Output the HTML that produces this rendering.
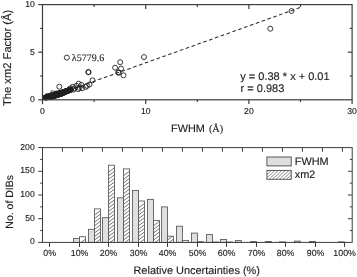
<!DOCTYPE html>
<html><head><meta charset="utf-8"><title>Figure</title>
<style>html,body{margin:0;padding:0;background:#fff;}svg{display:block;}svg text{text-rendering:geometricPrecision;}</style></head>
<body><svg width="357" height="277" viewBox="0 0 357 277" text-rendering="geometricPrecision">
<rect width="357" height="277" fill="#fff"/>
<line x1="45.60" y1="98.62" x2="300.6" y2="7.4" stroke="#2a2a2a" stroke-width="1.05" stroke-dasharray="3.6 2.6"/>
<polygon points="43.0,95.9 44.0,95.6 45.0,95.3 46.0,95.0 47.0,94.7 48.0,94.4 49.0,94.1 50.0,93.8 51.0,93.5 52.0,93.2 53.0,92.8 54.0,92.5 55.0,92.2 56.0,91.9 57.0,91.6 58.0,91.3 59.0,91.0 60.0,90.7 61.0,90.4 62.0,90.1 63.0,89.7 64.0,89.4 65.0,89.1 66.0,88.8 67.0,88.5 68.0,88.2 69.0,87.9 70.0,87.6 71.0,87.3 71.0,91.5 70.0,92.0 69.0,92.5 68.0,93.0 67.0,93.5 66.0,94.0 65.0,94.5 64.0,95.0 63.0,95.5 62.0,95.9 61.0,96.2 60.0,96.6 59.0,96.9 58.0,97.2 57.0,97.5 56.0,97.8 55.0,98.1 54.0,98.5 53.0,98.8 52.0,99.1 51.0,99.1 50.0,99.1 49.0,99.1 48.0,99.1 47.0,99.1 46.0,99.1 45.0,99.1 44.0,99.1 43.0,99.1" fill="#000" stroke="#000" stroke-width="0.5" stroke-linejoin="round"/>
<circle cx="45.50" cy="97.57" r="2.5" fill="none" stroke="#202020" stroke-width="0.88"/>
<circle cx="45.80" cy="97.48" r="2.5" fill="none" stroke="#202020" stroke-width="0.88"/>
<circle cx="46.10" cy="97.38" r="2.5" fill="none" stroke="#202020" stroke-width="0.88"/>
<circle cx="46.40" cy="97.29" r="2.5" fill="none" stroke="#202020" stroke-width="0.88"/>
<circle cx="46.70" cy="97.20" r="2.5" fill="none" stroke="#202020" stroke-width="0.88"/>
<circle cx="47.00" cy="97.11" r="2.5" fill="none" stroke="#202020" stroke-width="0.88"/>
<circle cx="47.30" cy="97.01" r="2.5" fill="none" stroke="#202020" stroke-width="0.88"/>
<circle cx="47.60" cy="96.92" r="2.5" fill="none" stroke="#202020" stroke-width="0.88"/>
<circle cx="47.90" cy="96.83" r="2.5" fill="none" stroke="#202020" stroke-width="0.88"/>
<circle cx="48.20" cy="96.73" r="2.5" fill="none" stroke="#202020" stroke-width="0.88"/>
<circle cx="48.50" cy="96.70" r="2.5" fill="none" stroke="#202020" stroke-width="0.88"/>
<circle cx="48.80" cy="96.56" r="2.5" fill="none" stroke="#202020" stroke-width="0.88"/>
<circle cx="49.10" cy="96.45" r="2.5" fill="none" stroke="#202020" stroke-width="0.88"/>
<circle cx="49.40" cy="96.70" r="2.5" fill="none" stroke="#202020" stroke-width="0.88"/>
<circle cx="49.70" cy="96.50" r="2.5" fill="none" stroke="#202020" stroke-width="0.88"/>
<circle cx="50.00" cy="96.18" r="2.5" fill="none" stroke="#202020" stroke-width="0.88"/>
<circle cx="50.30" cy="96.70" r="2.5" fill="none" stroke="#202020" stroke-width="0.88"/>
<circle cx="50.60" cy="96.25" r="2.5" fill="none" stroke="#202020" stroke-width="0.88"/>
<circle cx="50.90" cy="95.90" r="2.5" fill="none" stroke="#202020" stroke-width="0.88"/>
<circle cx="51.20" cy="96.70" r="2.5" fill="none" stroke="#202020" stroke-width="0.88"/>
<circle cx="51.50" cy="95.77" r="2.5" fill="none" stroke="#202020" stroke-width="0.88"/>
<circle cx="51.80" cy="95.62" r="2.5" fill="none" stroke="#202020" stroke-width="0.88"/>
<circle cx="52.10" cy="96.67" r="2.5" fill="none" stroke="#202020" stroke-width="0.88"/>
<circle cx="52.40" cy="96.01" r="2.5" fill="none" stroke="#202020" stroke-width="0.88"/>
<circle cx="52.70" cy="95.34" r="2.5" fill="none" stroke="#202020" stroke-width="0.88"/>
<circle cx="53.00" cy="96.38" r="2.5" fill="none" stroke="#202020" stroke-width="0.88"/>
<circle cx="53.30" cy="95.19" r="2.5" fill="none" stroke="#202020" stroke-width="0.88"/>
<circle cx="53.60" cy="95.06" r="2.5" fill="none" stroke="#202020" stroke-width="0.88"/>
<circle cx="53.90" cy="96.10" r="2.5" fill="none" stroke="#202020" stroke-width="0.88"/>
<circle cx="54.20" cy="95.36" r="2.5" fill="none" stroke="#202020" stroke-width="0.88"/>
<circle cx="54.50" cy="94.78" r="2.5" fill="none" stroke="#202020" stroke-width="0.88"/>
<circle cx="54.80" cy="95.81" r="2.5" fill="none" stroke="#202020" stroke-width="0.88"/>
<circle cx="55.10" cy="94.67" r="2.5" fill="none" stroke="#202020" stroke-width="0.88"/>
<circle cx="55.40" cy="94.50" r="2.5" fill="none" stroke="#202020" stroke-width="0.88"/>
<circle cx="55.70" cy="95.53" r="2.5" fill="none" stroke="#202020" stroke-width="0.88"/>
<circle cx="56.00" cy="94.42" r="2.5" fill="none" stroke="#202020" stroke-width="0.88"/>
<circle cx="56.30" cy="94.22" r="2.5" fill="none" stroke="#202020" stroke-width="0.88"/>
<circle cx="56.60" cy="95.24" r="2.5" fill="none" stroke="#202020" stroke-width="0.88"/>
<circle cx="56.90" cy="94.51" r="2.5" fill="none" stroke="#202020" stroke-width="0.88"/>
<circle cx="57.20" cy="93.94" r="2.5" fill="none" stroke="#202020" stroke-width="0.88"/>
<circle cx="57.50" cy="94.95" r="2.5" fill="none" stroke="#202020" stroke-width="0.88"/>
<circle cx="57.80" cy="94.67" r="2.5" fill="none" stroke="#202020" stroke-width="0.88"/>
<circle cx="58.10" cy="93.66" r="2.5" fill="none" stroke="#202020" stroke-width="0.88"/>
<circle cx="58.40" cy="94.67" r="2.5" fill="none" stroke="#202020" stroke-width="0.88"/>
<circle cx="58.70" cy="93.61" r="2.5" fill="none" stroke="#202020" stroke-width="0.88"/>
<circle cx="59.00" cy="93.39" r="2.5" fill="none" stroke="#202020" stroke-width="0.88"/>
<circle cx="59.30" cy="94.38" r="2.5" fill="none" stroke="#202020" stroke-width="0.88"/>
<circle cx="59.60" cy="93.44" r="2.5" fill="none" stroke="#202020" stroke-width="0.88"/>
<circle cx="59.90" cy="93.11" r="2.5" fill="none" stroke="#202020" stroke-width="0.88"/>
<circle cx="60.20" cy="94.10" r="2.5" fill="none" stroke="#202020" stroke-width="0.88"/>
<circle cx="60.50" cy="93.60" r="2.5" fill="none" stroke="#202020" stroke-width="0.88"/>
<circle cx="60.80" cy="92.83" r="2.5" fill="none" stroke="#202020" stroke-width="0.88"/>
<circle cx="61.10" cy="93.81" r="2.5" fill="none" stroke="#202020" stroke-width="0.88"/>
<circle cx="61.40" cy="93.66" r="2.5" fill="none" stroke="#202020" stroke-width="0.88"/>
<circle cx="61.70" cy="92.55" r="2.5" fill="none" stroke="#202020" stroke-width="0.88"/>
<circle cx="62.00" cy="93.53" r="2.5" fill="none" stroke="#202020" stroke-width="0.88"/>
<circle cx="62.30" cy="92.98" r="2.5" fill="none" stroke="#202020" stroke-width="0.88"/>
<circle cx="62.60" cy="92.27" r="2.5" fill="none" stroke="#202020" stroke-width="0.88"/>
<circle cx="62.90" cy="93.15" r="2.5" fill="none" stroke="#202020" stroke-width="0.88"/>
<circle cx="63.20" cy="92.45" r="2.5" fill="none" stroke="#202020" stroke-width="0.88"/>
<circle cx="63.50" cy="91.99" r="2.5" fill="none" stroke="#202020" stroke-width="0.88"/>
<circle cx="63.80" cy="92.70" r="2.5" fill="none" stroke="#202020" stroke-width="0.88"/>
<circle cx="64.10" cy="92.53" r="2.5" fill="none" stroke="#202020" stroke-width="0.88"/>
<circle cx="64.40" cy="91.71" r="2.5" fill="none" stroke="#202020" stroke-width="0.88"/>
<circle cx="64.70" cy="92.25" r="2.5" fill="none" stroke="#202020" stroke-width="0.88"/>
<circle cx="65.00" cy="91.55" r="2.5" fill="none" stroke="#202020" stroke-width="0.88"/>
<circle cx="65.30" cy="91.43" r="2.5" fill="none" stroke="#202020" stroke-width="0.88"/>
<circle cx="65.60" cy="91.80" r="2.5" fill="none" stroke="#202020" stroke-width="0.88"/>
<circle cx="65.90" cy="91.59" r="2.5" fill="none" stroke="#202020" stroke-width="0.88"/>
<circle cx="66.20" cy="91.15" r="2.5" fill="none" stroke="#202020" stroke-width="0.88"/>
<circle cx="66.50" cy="91.35" r="2.5" fill="none" stroke="#202020" stroke-width="0.88"/>
<circle cx="66.80" cy="91.03" r="2.5" fill="none" stroke="#202020" stroke-width="0.88"/>
<circle cx="67.10" cy="90.87" r="2.5" fill="none" stroke="#202020" stroke-width="0.88"/>
<circle cx="67.40" cy="90.90" r="2.5" fill="none" stroke="#202020" stroke-width="0.88"/>
<circle cx="67.70" cy="90.70" r="2.5" fill="none" stroke="#202020" stroke-width="0.88"/>
<circle cx="68.00" cy="90.60" r="2.5" fill="none" stroke="#202020" stroke-width="0.88"/>
<circle cx="68.30" cy="90.50" r="2.5" fill="none" stroke="#202020" stroke-width="0.88"/>
<circle cx="68.60" cy="90.41" r="2.5" fill="none" stroke="#202020" stroke-width="0.88"/>
<circle cx="68.90" cy="90.32" r="2.5" fill="none" stroke="#202020" stroke-width="0.88"/>
<circle cx="69.20" cy="90.22" r="2.5" fill="none" stroke="#202020" stroke-width="0.88"/>
<circle cx="69.50" cy="90.13" r="2.5" fill="none" stroke="#202020" stroke-width="0.88"/>
<circle cx="69.80" cy="90.04" r="2.5" fill="none" stroke="#202020" stroke-width="0.88"/>
<circle cx="70.10" cy="89.94" r="2.5" fill="none" stroke="#202020" stroke-width="0.88"/>
<circle cx="70.40" cy="89.85" r="2.5" fill="none" stroke="#202020" stroke-width="0.88"/>
<circle cx="70.70" cy="89.76" r="2.5" fill="none" stroke="#202020" stroke-width="0.88"/>
<circle cx="71.00" cy="89.67" r="2.5" fill="none" stroke="#202020" stroke-width="0.88"/>
<circle cx="66.80" cy="57.60" r="2.5" fill="none" stroke="#202020" stroke-width="0.88"/>
<circle cx="59.30" cy="86.70" r="2.5" fill="none" stroke="#202020" stroke-width="0.88"/>
<circle cx="88.30" cy="72.00" r="2.5" fill="none" stroke="#202020" stroke-width="0.88"/>
<circle cx="88.60" cy="72.30" r="2.5" fill="none" stroke="#202020" stroke-width="0.88"/>
<circle cx="92.50" cy="80.30" r="2.5" fill="none" stroke="#202020" stroke-width="0.88"/>
<circle cx="89.50" cy="84.50" r="2.5" fill="none" stroke="#202020" stroke-width="0.88"/>
<circle cx="87.00" cy="85.80" r="2.5" fill="none" stroke="#202020" stroke-width="0.88"/>
<circle cx="85.70" cy="87.00" r="2.5" fill="none" stroke="#202020" stroke-width="0.88"/>
<circle cx="78.60" cy="83.70" r="2.5" fill="none" stroke="#202020" stroke-width="0.88"/>
<circle cx="81.50" cy="84.90" r="2.5" fill="none" stroke="#202020" stroke-width="0.88"/>
<circle cx="76.50" cy="85.80" r="2.5" fill="none" stroke="#202020" stroke-width="0.88"/>
<circle cx="79.40" cy="87.90" r="2.5" fill="none" stroke="#202020" stroke-width="0.88"/>
<circle cx="82.00" cy="88.30" r="2.5" fill="none" stroke="#202020" stroke-width="0.88"/>
<circle cx="78.20" cy="89.10" r="2.5" fill="none" stroke="#202020" stroke-width="0.88"/>
<circle cx="72.80" cy="86.80" r="2.5" fill="none" stroke="#202020" stroke-width="0.88"/>
<circle cx="74.30" cy="88.30" r="2.5" fill="none" stroke="#202020" stroke-width="0.88"/>
<circle cx="73.60" cy="89.60" r="2.5" fill="none" stroke="#202020" stroke-width="0.88"/>
<circle cx="70.30" cy="88.30" r="2.5" fill="none" stroke="#202020" stroke-width="0.88"/>
<circle cx="52.80" cy="93.30" r="2.5" fill="none" stroke="#202020" stroke-width="0.88"/>
<circle cx="56.50" cy="93.40" r="2.5" fill="none" stroke="#202020" stroke-width="0.88"/>
<circle cx="47.50" cy="96.00" r="2.5" fill="none" stroke="#202020" stroke-width="0.88"/>
<circle cx="120.20" cy="62.20" r="2.5" fill="none" stroke="#202020" stroke-width="0.88"/>
<circle cx="115.10" cy="67.70" r="2.5" fill="none" stroke="#202020" stroke-width="0.88"/>
<circle cx="121.00" cy="68.60" r="2.5" fill="none" stroke="#202020" stroke-width="0.88"/>
<circle cx="118.80" cy="72.80" r="2.5" fill="none" stroke="#202020" stroke-width="0.88"/>
<circle cx="118.20" cy="72.20" r="2.5" fill="none" stroke="#202020" stroke-width="0.88"/>
<circle cx="123.50" cy="75.30" r="2.5" fill="none" stroke="#202020" stroke-width="0.88"/>
<circle cx="144.00" cy="57.10" r="2.5" fill="none" stroke="#202020" stroke-width="0.88"/>
<circle cx="291.60" cy="11.00" r="2.5" fill="none" stroke="#202020" stroke-width="0.88"/>
<circle cx="270.30" cy="28.70" r="2.5" fill="none" stroke="#202020" stroke-width="0.88"/>
<rect x="42.5" y="4.6" width="309.60" height="95.20" fill="none" stroke="#3c3c3c" stroke-width="1.2"/>
<line x1="42.50" y1="99.80" x2="42.50" y2="104.10" stroke="#3c3c3c" stroke-width="1.2" />
<text x="42.50" y="114.20" font-size="8.6" text-anchor="middle" font-family='"Liberation Sans", Arial, sans-serif' fill="#1e1e1e" stroke="#1e1e1e" stroke-width="0.14" >0</text>
<line x1="94.10" y1="99.80" x2="94.10" y2="102.10" stroke="#3c3c3c" stroke-width="1.2" />
<line x1="94.10" y1="4.60" x2="94.10" y2="6.90" stroke="#3c3c3c" stroke-width="1.2" />
<line x1="145.70" y1="99.80" x2="145.70" y2="104.10" stroke="#3c3c3c" stroke-width="1.2" />
<line x1="145.70" y1="4.60" x2="145.70" y2="8.90" stroke="#3c3c3c" stroke-width="1.2" />
<text x="145.70" y="114.20" font-size="8.6" text-anchor="middle" font-family='"Liberation Sans", Arial, sans-serif' fill="#1e1e1e" stroke="#1e1e1e" stroke-width="0.14" >10</text>
<line x1="197.30" y1="99.80" x2="197.30" y2="102.10" stroke="#3c3c3c" stroke-width="1.2" />
<line x1="197.30" y1="4.60" x2="197.30" y2="6.90" stroke="#3c3c3c" stroke-width="1.2" />
<line x1="248.90" y1="99.80" x2="248.90" y2="104.10" stroke="#3c3c3c" stroke-width="1.2" />
<line x1="248.90" y1="4.60" x2="248.90" y2="8.90" stroke="#3c3c3c" stroke-width="1.2" />
<text x="248.90" y="114.20" font-size="8.6" text-anchor="middle" font-family='"Liberation Sans", Arial, sans-serif' fill="#1e1e1e" stroke="#1e1e1e" stroke-width="0.14" >20</text>
<line x1="300.50" y1="99.80" x2="300.50" y2="102.10" stroke="#3c3c3c" stroke-width="1.2" />
<line x1="300.50" y1="4.60" x2="300.50" y2="6.90" stroke="#3c3c3c" stroke-width="1.2" />
<line x1="352.10" y1="99.80" x2="352.10" y2="104.10" stroke="#3c3c3c" stroke-width="1.2" />
<text x="352.10" y="114.20" font-size="8.6" text-anchor="middle" font-family='"Liberation Sans", Arial, sans-serif' fill="#1e1e1e" stroke="#1e1e1e" stroke-width="0.14" >30</text>
<line x1="42.50" y1="99.80" x2="38.20" y2="99.80" stroke="#3c3c3c" stroke-width="1.2" />
<text x="34.80" y="102.30" font-size="8.6" text-anchor="end" font-family='"Liberation Sans", Arial, sans-serif' fill="#1e1e1e" stroke="#1e1e1e" stroke-width="0.14" >0</text>
<line x1="42.50" y1="76.00" x2="40.20" y2="76.00" stroke="#3c3c3c" stroke-width="1.2" />
<line x1="352.10" y1="76.00" x2="349.80" y2="76.00" stroke="#3c3c3c" stroke-width="1.2" />
<line x1="42.50" y1="52.20" x2="38.20" y2="52.20" stroke="#3c3c3c" stroke-width="1.2" />
<line x1="352.10" y1="52.20" x2="347.80" y2="52.20" stroke="#3c3c3c" stroke-width="1.2" />
<text x="34.80" y="54.70" font-size="8.6" text-anchor="end" font-family='"Liberation Sans", Arial, sans-serif' fill="#1e1e1e" stroke="#1e1e1e" stroke-width="0.14" >5</text>
<line x1="42.50" y1="28.40" x2="40.20" y2="28.40" stroke="#3c3c3c" stroke-width="1.2" />
<line x1="352.10" y1="28.40" x2="349.80" y2="28.40" stroke="#3c3c3c" stroke-width="1.2" />
<line x1="42.50" y1="4.60" x2="38.20" y2="4.60" stroke="#3c3c3c" stroke-width="1.2" />
<text x="34.80" y="7.10" font-size="8.6" text-anchor="end" font-family='"Liberation Sans", Arial, sans-serif' fill="#1e1e1e" stroke="#1e1e1e" stroke-width="0.14" >10</text>
<text x="171.00" y="132.30" font-size="10.9" text-anchor="start" font-family='"Liberation Sans", Arial, sans-serif' fill="#1e1e1e" stroke="#1e1e1e" stroke-width="0.14" >FWHM</text>
<text x="208.90" y="132.30" font-size="10.3" text-anchor="start" font-family='"Liberation Serif", "Times New Roman", serif' fill="#1e1e1e" stroke="#1e1e1e" stroke-width="0.14" >(Å)</text>
<text transform="translate(10.6,57.9) rotate(-90)" text-anchor="middle" font-size="11.2" fill="#1e1e1e" stroke="#1e1e1e" stroke-width="0.14" font-family='"Liberation Sans", Arial, sans-serif'>The xm2 Factor (Å)</text>
<text x="71.80" y="60.50" font-size="10" text-anchor="start" font-family='"Liberation Serif", "Times New Roman", serif' fill="#1e1e1e" stroke="#1e1e1e" stroke-width="0.14" >λ5779.6</text>
<text x="240.30" y="80.30" font-size="11" text-anchor="start" font-family='"Liberation Sans", Arial, sans-serif' fill="#1e1e1e" stroke="#1e1e1e" stroke-width="0.14" >y = 0.38 * x + 0.01</text>
<text x="240.60" y="91.70" font-size="11" text-anchor="start" font-family='"Liberation Sans", Arial, sans-serif' fill="#1e1e1e" stroke="#1e1e1e" stroke-width="0.14" >r = 0.983</text>
<defs><pattern id="h" patternUnits="userSpaceOnUse" width="4.76" height="3.57"><path d="M-2.380,3.57 L4.760,-1.785 M0,5.355 L7.140,0" stroke="#4c4c4c" stroke-width="0.95" fill="none"/></pattern><pattern id="h2" patternUnits="userSpaceOnUse" width="3.5" height="3.26"><path d="M-1.750,3.26 L3.500,-1.630 M0,4.890 L5.250,0" stroke="#4c4c4c" stroke-width="0.9" fill="none"/></pattern></defs>
<rect x="73.50" y="238.50" width="6.00" height="3.90" fill="#e0e0e0" stroke="#555" stroke-width="0.85"/>
<rect x="79.50" y="236.70" width="6.00" height="5.70" fill="#fff" stroke="none"/>
<clipPath id="c1"><rect x="79.50" y="236.70" width="6.00" height="5.70"/></clipPath>
<path d="M78.50,244.35 L86.50,238.35 M78.50,247.92 L86.50,241.92 M78.50,251.49 L86.50,245.49" stroke="#505050" stroke-width="0.8" fill="none" clip-path="url(#c1)"/>
<rect x="79.50" y="236.70" width="6.00" height="5.70" fill="none" stroke="#555" stroke-width="0.85"/>
<rect x="88.50" y="229.30" width="6.00" height="13.10" fill="#e0e0e0" stroke="#555" stroke-width="0.85"/>
<rect x="94.50" y="208.90" width="6.00" height="33.50" fill="#fff" stroke="none"/>
<clipPath id="c2"><rect x="94.50" y="208.90" width="6.00" height="33.50"/></clipPath>
<path d="M93.50,215.79 L101.50,209.79 M93.50,219.36 L101.50,213.36 M93.50,222.93 L101.50,216.93 M93.50,226.50 L101.50,220.50 M93.50,230.07 L101.50,224.07 M93.50,233.64 L101.50,227.64 M93.50,237.21 L101.50,231.21 M93.50,240.78 L101.50,234.78 M93.50,244.35 L101.50,238.35 M93.50,247.92 L101.50,241.92 M93.50,251.49 L101.50,245.49" stroke="#505050" stroke-width="0.8" fill="none" clip-path="url(#c2)"/>
<rect x="94.50" y="208.90" width="6.00" height="33.50" fill="none" stroke="#555" stroke-width="0.85"/>
<rect x="102.50" y="217.70" width="6.00" height="24.70" fill="#e0e0e0" stroke="#555" stroke-width="0.85"/>
<rect x="108.50" y="165.20" width="6.00" height="77.20" fill="#fff" stroke="none"/>
<clipPath id="c3"><rect x="108.50" y="165.20" width="6.00" height="77.20"/></clipPath>
<path d="M107.50,172.95 L115.50,166.95 M107.50,176.52 L115.50,170.52 M107.50,180.09 L115.50,174.09 M107.50,183.66 L115.50,177.66 M107.50,187.23 L115.50,181.23 M107.50,190.80 L115.50,184.80 M107.50,194.37 L115.50,188.37 M107.50,197.94 L115.50,191.94 M107.50,201.51 L115.50,195.51 M107.50,205.08 L115.50,199.08 M107.50,208.65 L115.50,202.65 M107.50,212.22 L115.50,206.22 M107.50,215.79 L115.50,209.79 M107.50,219.36 L115.50,213.36 M107.50,222.93 L115.50,216.93 M107.50,226.50 L115.50,220.50 M107.50,230.07 L115.50,224.07 M107.50,233.64 L115.50,227.64 M107.50,237.21 L115.50,231.21 M107.50,240.78 L115.50,234.78 M107.50,244.35 L115.50,238.35 M107.50,247.92 L115.50,241.92 M107.50,251.49 L115.50,245.49" stroke="#505050" stroke-width="0.8" fill="none" clip-path="url(#c3)"/>
<rect x="108.50" y="165.20" width="6.00" height="77.20" fill="none" stroke="#555" stroke-width="0.85"/>
<rect x="117.50" y="197.80" width="6.00" height="44.60" fill="#e0e0e0" stroke="#555" stroke-width="0.85"/>
<rect x="123.50" y="168.90" width="6.00" height="73.50" fill="#fff" stroke="none"/>
<clipPath id="c4"><rect x="123.50" y="168.90" width="6.00" height="73.50"/></clipPath>
<path d="M122.50,176.52 L130.50,170.52 M122.50,180.09 L130.50,174.09 M122.50,183.66 L130.50,177.66 M122.50,187.23 L130.50,181.23 M122.50,190.80 L130.50,184.80 M122.50,194.37 L130.50,188.37 M122.50,197.94 L130.50,191.94 M122.50,201.51 L130.50,195.51 M122.50,205.08 L130.50,199.08 M122.50,208.65 L130.50,202.65 M122.50,212.22 L130.50,206.22 M122.50,215.79 L130.50,209.79 M122.50,219.36 L130.50,213.36 M122.50,222.93 L130.50,216.93 M122.50,226.50 L130.50,220.50 M122.50,230.07 L130.50,224.07 M122.50,233.64 L130.50,227.64 M122.50,237.21 L130.50,231.21 M122.50,240.78 L130.50,234.78 M122.50,244.35 L130.50,238.35 M122.50,247.92 L130.50,241.92 M122.50,251.49 L130.50,245.49" stroke="#505050" stroke-width="0.8" fill="none" clip-path="url(#c4)"/>
<rect x="123.50" y="168.90" width="6.00" height="73.50" fill="none" stroke="#555" stroke-width="0.85"/>
<rect x="132.50" y="190.40" width="6.00" height="52.00" fill="#e0e0e0" stroke="#555" stroke-width="0.85"/>
<rect x="138.50" y="201.00" width="6.00" height="41.40" fill="#fff" stroke="none"/>
<clipPath id="c5"><rect x="138.50" y="201.00" width="6.00" height="41.40"/></clipPath>
<path d="M137.50,208.65 L145.50,202.65 M137.50,212.22 L145.50,206.22 M137.50,215.79 L145.50,209.79 M137.50,219.36 L145.50,213.36 M137.50,222.93 L145.50,216.93 M137.50,226.50 L145.50,220.50 M137.50,230.07 L145.50,224.07 M137.50,233.64 L145.50,227.64 M137.50,237.21 L145.50,231.21 M137.50,240.78 L145.50,234.78 M137.50,244.35 L145.50,238.35 M137.50,247.92 L145.50,241.92 M137.50,251.49 L145.50,245.49" stroke="#505050" stroke-width="0.8" fill="none" clip-path="url(#c5)"/>
<rect x="138.50" y="201.00" width="6.00" height="41.40" fill="none" stroke="#555" stroke-width="0.85"/>
<rect x="147.50" y="199.40" width="6.00" height="43.00" fill="#e0e0e0" stroke="#555" stroke-width="0.85"/>
<rect x="153.50" y="220.40" width="6.00" height="22.00" fill="#fff" stroke="none"/>
<clipPath id="c6"><rect x="153.50" y="220.40" width="6.00" height="22.00"/></clipPath>
<path d="M152.50,226.50 L160.50,220.50 M152.50,230.07 L160.50,224.07 M152.50,233.64 L160.50,227.64 M152.50,237.21 L160.50,231.21 M152.50,240.78 L160.50,234.78 M152.50,244.35 L160.50,238.35 M152.50,247.92 L160.50,241.92 M152.50,251.49 L160.50,245.49" stroke="#505050" stroke-width="0.8" fill="none" clip-path="url(#c6)"/>
<rect x="153.50" y="220.40" width="6.00" height="22.00" fill="none" stroke="#555" stroke-width="0.85"/>
<rect x="161.50" y="206.90" width="6.00" height="35.50" fill="#e0e0e0" stroke="#555" stroke-width="0.85"/>
<rect x="167.50" y="236.20" width="6.00" height="6.20" fill="#fff" stroke="none"/>
<clipPath id="c7"><rect x="167.50" y="236.20" width="6.00" height="6.20"/></clipPath>
<path d="M166.50,240.78 L174.50,234.78 M166.50,244.35 L174.50,238.35 M166.50,247.92 L174.50,241.92 M166.50,251.49 L174.50,245.49" stroke="#505050" stroke-width="0.8" fill="none" clip-path="url(#c7)"/>
<rect x="167.50" y="236.20" width="6.00" height="6.20" fill="none" stroke="#555" stroke-width="0.85"/>
<rect x="176.50" y="226.20" width="6.00" height="16.20" fill="#e0e0e0" stroke="#555" stroke-width="0.85"/>
<rect x="182.50" y="240.40" width="6.00" height="2.00" fill="#fff" stroke="none"/>
<clipPath id="c8"><rect x="182.50" y="240.40" width="6.00" height="2.00"/></clipPath>
<path d="M181.50,247.92 L189.50,241.92 M181.50,251.49 L189.50,245.49" stroke="#505050" stroke-width="0.8" fill="none" clip-path="url(#c8)"/>
<rect x="182.50" y="240.40" width="6.00" height="2.00" fill="none" stroke="#555" stroke-width="0.85"/>
<rect x="191.50" y="233.10" width="6.00" height="9.30" fill="#e0e0e0" stroke="#555" stroke-width="0.85"/>
<rect x="197.50" y="241.70" width="6.00" height="0.70" fill="#fff" stroke="none"/>
<clipPath id="c9"><rect x="197.50" y="241.70" width="6.00" height="0.70"/></clipPath>
<path d="M196.50,247.92 L204.50,241.92 M196.50,251.49 L204.50,245.49" stroke="#505050" stroke-width="0.8" fill="none" clip-path="url(#c9)"/>
<rect x="197.50" y="241.70" width="6.00" height="0.70" fill="none" stroke="#555" stroke-width="0.85"/>
<rect x="206.50" y="234.60" width="6.00" height="7.80" fill="#e0e0e0" stroke="#555" stroke-width="0.85"/>
<rect x="212.50" y="242.00" width="6.00" height="0.40" fill="#fff" stroke="none"/>
<clipPath id="c10"><rect x="212.50" y="242.00" width="6.00" height="0.40"/></clipPath>
<path d="M211.50,247.92 L219.50,241.92 M211.50,251.49 L219.50,245.49" stroke="#505050" stroke-width="0.8" fill="none" clip-path="url(#c10)"/>
<rect x="212.50" y="242.00" width="6.00" height="0.40" fill="none" stroke="#555" stroke-width="0.85"/>
<rect x="220.50" y="239.50" width="6.00" height="2.90" fill="#e0e0e0" stroke="#555" stroke-width="0.85"/>
<rect x="226.50" y="242.00" width="6.00" height="0.40" fill="#fff" stroke="none"/>
<clipPath id="c11"><rect x="226.50" y="242.00" width="6.00" height="0.40"/></clipPath>
<path d="M225.50,247.92 L233.50,241.92 M225.50,251.49 L233.50,245.49" stroke="#505050" stroke-width="0.8" fill="none" clip-path="url(#c11)"/>
<rect x="226.50" y="242.00" width="6.00" height="0.40" fill="none" stroke="#555" stroke-width="0.85"/>
<rect x="235.50" y="240.60" width="6.00" height="1.80" fill="#e0e0e0" stroke="#555" stroke-width="0.85"/>
<rect x="250.50" y="241.60" width="6.00" height="0.80" fill="#e0e0e0" stroke="#555" stroke-width="0.85"/>
<rect x="265.50" y="241.50" width="6.00" height="0.90" fill="#e0e0e0" stroke="#555" stroke-width="0.85"/>
<rect x="279.50" y="241.90" width="6.00" height="0.50" fill="#e0e0e0" stroke="#555" stroke-width="0.85"/>
<rect x="294.50" y="241.10" width="6.00" height="1.30" fill="#e0e0e0" stroke="#555" stroke-width="0.85"/>
<rect x="309.50" y="241.50" width="6.00" height="0.90" fill="#e0e0e0" stroke="#555" stroke-width="0.85"/>
<rect x="338.50" y="241.90" width="6.00" height="0.50" fill="#e0e0e0" stroke="#555" stroke-width="0.85"/>
<rect x="42.5" y="147.6" width="309.70" height="94.80" fill="none" stroke="#3c3c3c" stroke-width="1.0"/>
<line x1="49.50" y1="242.40" x2="49.50" y2="246.90" stroke="#3c3c3c" stroke-width="1.0" />
<text x="49.60" y="256.40" font-size="8.8" text-anchor="middle" font-family='"Liberation Sans", Arial, sans-serif' fill="#1e1e1e" stroke="#1e1e1e" stroke-width="0.14" >0%</text>
<line x1="79.50" y1="242.40" x2="79.50" y2="246.90" stroke="#3c3c3c" stroke-width="1.0" />
<text x="79.60" y="256.40" font-size="8.8" text-anchor="middle" font-family='"Liberation Sans", Arial, sans-serif' fill="#1e1e1e" stroke="#1e1e1e" stroke-width="0.14" >10%</text>
<line x1="108.50" y1="242.40" x2="108.50" y2="246.90" stroke="#3c3c3c" stroke-width="1.0" />
<text x="108.60" y="256.40" font-size="8.8" text-anchor="middle" font-family='"Liberation Sans", Arial, sans-serif' fill="#1e1e1e" stroke="#1e1e1e" stroke-width="0.14" >20%</text>
<line x1="138.50" y1="242.40" x2="138.50" y2="246.90" stroke="#3c3c3c" stroke-width="1.0" />
<text x="138.60" y="256.40" font-size="8.8" text-anchor="middle" font-family='"Liberation Sans", Arial, sans-serif' fill="#1e1e1e" stroke="#1e1e1e" stroke-width="0.14" >30%</text>
<line x1="167.50" y1="242.40" x2="167.50" y2="246.90" stroke="#3c3c3c" stroke-width="1.0" />
<text x="167.60" y="256.40" font-size="8.8" text-anchor="middle" font-family='"Liberation Sans", Arial, sans-serif' fill="#1e1e1e" stroke="#1e1e1e" stroke-width="0.14" >40%</text>
<line x1="197.50" y1="242.40" x2="197.50" y2="246.90" stroke="#3c3c3c" stroke-width="1.0" />
<text x="197.60" y="256.40" font-size="8.8" text-anchor="middle" font-family='"Liberation Sans", Arial, sans-serif' fill="#1e1e1e" stroke="#1e1e1e" stroke-width="0.14" >50%</text>
<line x1="226.50" y1="242.40" x2="226.50" y2="246.90" stroke="#3c3c3c" stroke-width="1.0" />
<text x="226.60" y="256.40" font-size="8.8" text-anchor="middle" font-family='"Liberation Sans", Arial, sans-serif' fill="#1e1e1e" stroke="#1e1e1e" stroke-width="0.14" >60%</text>
<line x1="256.50" y1="242.40" x2="256.50" y2="246.90" stroke="#3c3c3c" stroke-width="1.0" />
<text x="256.60" y="256.40" font-size="8.8" text-anchor="middle" font-family='"Liberation Sans", Arial, sans-serif' fill="#1e1e1e" stroke="#1e1e1e" stroke-width="0.14" >70%</text>
<line x1="285.50" y1="242.40" x2="285.50" y2="246.90" stroke="#3c3c3c" stroke-width="1.0" />
<text x="285.60" y="256.40" font-size="8.8" text-anchor="middle" font-family='"Liberation Sans", Arial, sans-serif' fill="#1e1e1e" stroke="#1e1e1e" stroke-width="0.14" >80%</text>
<line x1="315.50" y1="242.40" x2="315.50" y2="246.90" stroke="#3c3c3c" stroke-width="1.0" />
<text x="315.60" y="256.40" font-size="8.8" text-anchor="middle" font-family='"Liberation Sans", Arial, sans-serif' fill="#1e1e1e" stroke="#1e1e1e" stroke-width="0.14" >90%</text>
<line x1="344.50" y1="242.40" x2="344.50" y2="246.90" stroke="#3c3c3c" stroke-width="1.0" />
<text x="344.60" y="256.40" font-size="8.8" text-anchor="middle" font-family='"Liberation Sans", Arial, sans-serif' fill="#1e1e1e" stroke="#1e1e1e" stroke-width="0.14" >100%</text>
<line x1="62.40" y1="147.60" x2="62.40" y2="151.80" stroke="#3c3c3c" stroke-width="1.0" />
<line x1="82.40" y1="147.60" x2="82.40" y2="151.80" stroke="#3c3c3c" stroke-width="1.0" />
<line x1="102.40" y1="147.60" x2="102.40" y2="151.80" stroke="#3c3c3c" stroke-width="1.0" />
<line x1="122.40" y1="147.60" x2="122.40" y2="151.80" stroke="#3c3c3c" stroke-width="1.0" />
<line x1="142.40" y1="147.60" x2="142.40" y2="151.80" stroke="#3c3c3c" stroke-width="1.0" />
<line x1="162.40" y1="147.60" x2="162.40" y2="151.80" stroke="#3c3c3c" stroke-width="1.0" />
<line x1="182.40" y1="147.60" x2="182.40" y2="151.80" stroke="#3c3c3c" stroke-width="1.0" />
<line x1="202.40" y1="147.60" x2="202.40" y2="151.80" stroke="#3c3c3c" stroke-width="1.0" />
<line x1="222.40" y1="147.60" x2="222.40" y2="151.80" stroke="#3c3c3c" stroke-width="1.0" />
<line x1="242.40" y1="147.60" x2="242.40" y2="151.80" stroke="#3c3c3c" stroke-width="1.0" />
<line x1="262.40" y1="147.60" x2="262.40" y2="151.80" stroke="#3c3c3c" stroke-width="1.0" />
<line x1="282.40" y1="147.60" x2="282.40" y2="151.80" stroke="#3c3c3c" stroke-width="1.0" />
<line x1="302.40" y1="147.60" x2="302.40" y2="151.80" stroke="#3c3c3c" stroke-width="1.0" />
<line x1="322.40" y1="147.60" x2="322.40" y2="151.80" stroke="#3c3c3c" stroke-width="1.0" />
<line x1="342.40" y1="147.60" x2="342.40" y2="151.80" stroke="#3c3c3c" stroke-width="1.0" />
<line x1="42.50" y1="242.40" x2="38.20" y2="242.40" stroke="#3c3c3c" stroke-width="1.0" />
<text x="34.70" y="244.40" font-size="8.6" text-anchor="end" font-family='"Liberation Sans", Arial, sans-serif' fill="#1e1e1e" stroke="#1e1e1e" stroke-width="0.14" >0</text>
<line x1="42.50" y1="230.55" x2="40.20" y2="230.55" stroke="#3c3c3c" stroke-width="1.0" />
<line x1="352.20" y1="230.55" x2="349.90" y2="230.55" stroke="#3c3c3c" stroke-width="1.0" />
<line x1="42.50" y1="218.70" x2="38.20" y2="218.70" stroke="#3c3c3c" stroke-width="1.0" />
<line x1="352.20" y1="218.70" x2="347.90" y2="218.70" stroke="#3c3c3c" stroke-width="1.0" />
<text x="34.70" y="220.70" font-size="8.6" text-anchor="end" font-family='"Liberation Sans", Arial, sans-serif' fill="#1e1e1e" stroke="#1e1e1e" stroke-width="0.14" >50</text>
<line x1="42.50" y1="206.85" x2="40.20" y2="206.85" stroke="#3c3c3c" stroke-width="1.0" />
<line x1="352.20" y1="206.85" x2="349.90" y2="206.85" stroke="#3c3c3c" stroke-width="1.0" />
<line x1="42.50" y1="195.00" x2="38.20" y2="195.00" stroke="#3c3c3c" stroke-width="1.0" />
<line x1="352.20" y1="195.00" x2="347.90" y2="195.00" stroke="#3c3c3c" stroke-width="1.0" />
<text x="34.70" y="197.00" font-size="8.6" text-anchor="end" font-family='"Liberation Sans", Arial, sans-serif' fill="#1e1e1e" stroke="#1e1e1e" stroke-width="0.14" >100</text>
<line x1="42.50" y1="183.15" x2="40.20" y2="183.15" stroke="#3c3c3c" stroke-width="1.0" />
<line x1="352.20" y1="183.15" x2="349.90" y2="183.15" stroke="#3c3c3c" stroke-width="1.0" />
<line x1="42.50" y1="171.30" x2="38.20" y2="171.30" stroke="#3c3c3c" stroke-width="1.0" />
<line x1="352.20" y1="171.30" x2="347.90" y2="171.30" stroke="#3c3c3c" stroke-width="1.0" />
<text x="34.70" y="173.30" font-size="8.6" text-anchor="end" font-family='"Liberation Sans", Arial, sans-serif' fill="#1e1e1e" stroke="#1e1e1e" stroke-width="0.14" >150</text>
<line x1="42.50" y1="159.45" x2="40.20" y2="159.45" stroke="#3c3c3c" stroke-width="1.0" />
<line x1="352.20" y1="159.45" x2="349.90" y2="159.45" stroke="#3c3c3c" stroke-width="1.0" />
<line x1="42.50" y1="147.60" x2="38.20" y2="147.60" stroke="#3c3c3c" stroke-width="1.0" />
<text x="34.70" y="149.60" font-size="8.6" text-anchor="end" font-family='"Liberation Sans", Arial, sans-serif' fill="#1e1e1e" stroke="#1e1e1e" stroke-width="0.14" >200</text>
<text transform="translate(12.6,201.8) rotate(-90)" text-anchor="middle" font-size="10.5" fill="#1e1e1e" stroke="#1e1e1e" stroke-width="0.14" font-family='"Liberation Sans", Arial, sans-serif'>No. of DIBs</text>
<text x="196.70" y="274.30" font-size="10.95" text-anchor="middle" font-family='"Liberation Sans", Arial, sans-serif' fill="#1e1e1e" stroke="#1e1e1e" stroke-width="0.14" >Relative Uncertainties (%)</text>
<rect x="266.9" y="157.0" width="24.3" height="8.9" fill="#dedede" stroke="#484848" stroke-width="0.9"/>
<clipPath id="c12"><rect x="266.90" y="170.40" width="24.30" height="8.90"/></clipPath>
<path d="M265.90,175.59 L292.20,151.13 M265.90,178.85 L292.20,154.39 M265.90,182.11 L292.20,157.65 M265.90,185.37 L292.20,160.91 M265.90,188.63 L292.20,164.17 M265.90,191.89 L292.20,167.43 M265.90,195.15 L292.20,170.69 M265.90,198.41 L292.20,173.95 M265.90,201.67 L292.20,177.21 M265.90,204.93 L292.20,180.47" stroke="#505050" stroke-width="0.65" fill="none" clip-path="url(#c12)"/>
<rect x="266.9" y="170.4" width="24.3" height="8.9" fill="none" stroke="#484848" stroke-width="0.9"/>
<text x="294.80" y="165.10" font-size="10.9" text-anchor="start" font-family='"Liberation Sans", Arial, sans-serif' fill="#1e1e1e" stroke="#1e1e1e" stroke-width="0.14" >FWHM</text>
<text x="294.80" y="178.20" font-size="10.9" text-anchor="start" font-family='"Liberation Sans", Arial, sans-serif' fill="#1e1e1e" stroke="#1e1e1e" stroke-width="0.14" >xm2</text>
</svg></body></html>
